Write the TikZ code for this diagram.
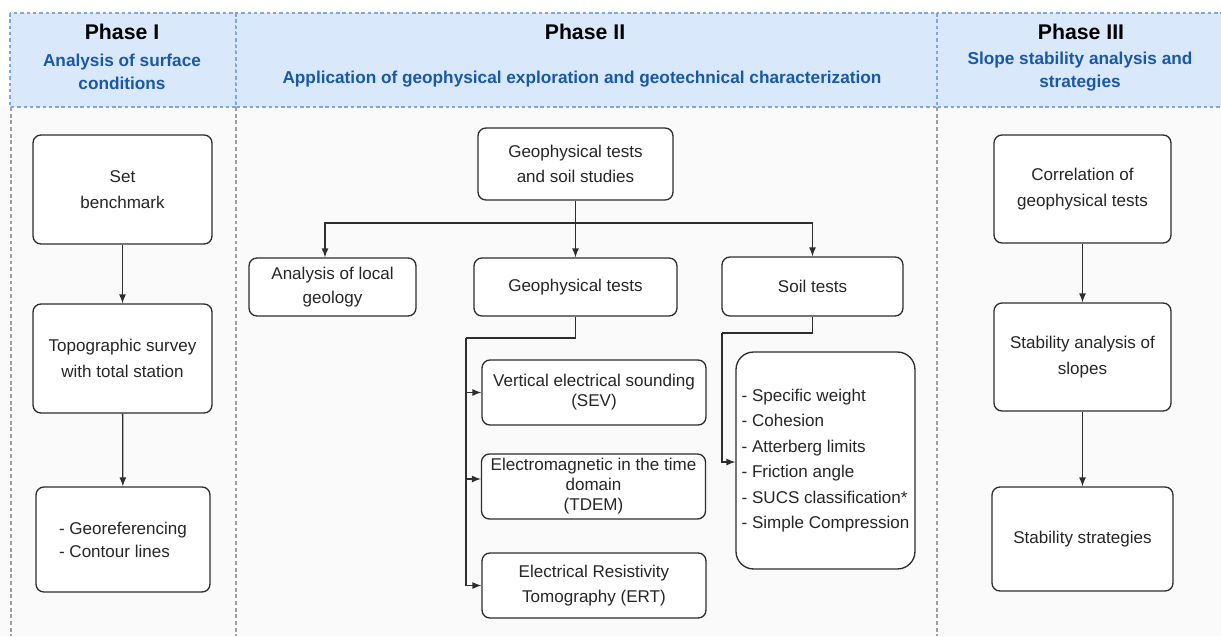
\documentclass[tikz,border=0pt]{standalone}
\usepackage{fontspec}
\setmainfont{Liberation Sans}
\usetikzlibrary{arrows}

\definecolor{entete}{HTML}{DAE8FC}
\definecolor{bordent}{HTML}{7EA6E0}
\definecolor{titbleu}{HTML}{1A58A8}
\definecolor{fond}{HTML}{FAFAFA}
\definecolor{trait}{HTML}{2E2E2E}

\tikzset{
  boite/.style={draw=trait, fill=white, rounded corners=4.5pt, line width=0.75pt,
    align=center, inner sep=2pt, text=black!85, font=\fontsize{9.7}{14.5}\selectfont},
  serre/.style={font=\fontsize{9.7}{11.4}\selectfont},
  fleche/.style={->, >=latex, line width=0.75pt, draw=trait},
  lien/.style={line width=0.75pt, draw=trait},
  entetebox/.style={fill=entete, draw=bordent, dash pattern=on 2pt off 1.6pt, line width=0.7pt},
  separ/.style={draw=gray!75, dash pattern=on 2.2pt off 1.6pt, line width=0.9pt},
  phase/.style={font=\fontsize{12.1}{14}\selectfont\bfseries},
  soustitre/.style={text=titbleu, align=center, font=\fontsize{9.8}{13}\selectfont\bfseries},
}

\begin{document}
\begin{tikzpicture}[x=0.02cm, y=-0.02cm]
    \useasboundingbox (0,0) rectangle (1221,636);

    % Fond et bandeau des phases
    \fill[fond] (0,107) rectangle (1221,636);
    \draw[entetebox] (10,13) rectangle (236,107);
    \draw[entetebox] (236,13) rectangle (937,107);
    \draw[entetebox] (937,13) rectangle (1230,107);
    \draw[separ] (11,107) -- (11,636);
    \draw[separ] (236,107) -- (236,636);
    \draw[separ] (937,107) -- (937,636);

    \node[phase] (ph1) at (122,32) {Phase I};
    \node[soustitre] (st1) at (122,71.5) {Analysis of surface\\conditions};
    \node[phase] (ph2) at (585,32) {Phase II};
    \node[soustitre] (st2) at (582,79) {Application of geophysical exploration and geotechnical characterization};
    \node[phase] (ph3) at (1081,32) {Phase III};
    \node[soustitre] (st3) at (1080,71.5) {Slope stability analysis and\\strategies};

    % Phase I
    \node[boite, minimum width=3.58cm, minimum height=2.18cm] (bench) at (122.5,189.5) {Set\\benchmark};
    \node[boite, minimum width=3.58cm, minimum height=2.18cm] (survey) at (122.5,358.5) {Topographic survey\\with total station};
    \node[boite, minimum width=3.48cm, minimum height=2.10cm, align=left, font=\fontsize{9.7}{13}\selectfont] (georef) at (123,539.5) {- Georeferencing\\- Contour lines};
    \draw[fleche] (bench) -- (survey);
    \draw[fleche] (survey) -- (georef);

    % Phase II
    \node[boite, minimum width=3.90cm, minimum height=1.44cm] (gsoil) at (575.5,164) {Geophysical tests\\and soil studies};
    \node[boite, minimum width=3.34cm, minimum height=1.16cm, font=\fontsize{9.7}{13.5}\selectfont] (geol) at (332.5,287) {Analysis of local\\geology};
    \node[boite, minimum width=4.06cm, minimum height=1.16cm] (gtests) at (575.5,287) {Geophysical tests};
    \node[boite, minimum width=3.62cm, minimum height=1.18cm] (soil) at (812.5,286.5) {Soil tests};

    \node[boite, serre, minimum width=4.48cm, minimum height=1.30cm] (sev) at (594,392.5) {Vertical electrical sounding\\(SEV)};
    \node[boite, serre, minimum width=4.48cm, minimum height=1.30cm] (tdem) at (593.5,486.5) {Electromagnetic in the time\\domain\\(TDEM)};
    \node[boite, minimum width=4.48cm, minimum height=1.30cm] (ert) at (594,585.5) {Electrical Resistivity\\Tomography (ERT)};
    \node[boite, rounded corners=10pt, align=left, minimum width=3.58cm, minimum height=4.34cm] (props) at (825.5,460.5)
        {- Specific weight\\- Cohesion\\- Atterberg limits\\- Friction angle\\- SUCS classification*\\- Simple Compression};

    % Liaisons de la phase II
    \coordinate (bus) at (575.5,223);
    \coordinate (busg) at (325,223);
    \draw[fleche] (gsoil) -- (gtests);
    \draw[fleche] (bus) -- (busg) -- (busg |- geol.north);
    \draw[fleche] (bus) -| (soil.north);

    \coordinate (tronc) at (466,338);
    \draw[lien] (gtests.south) |- (tronc);
    \draw[fleche] (tronc) |- (sev.west);
    \draw[fleche] (tronc) |- ([yshift=0.15cm]tdem.west);
    \draw[fleche] (tronc) |- (ert.west);

    \coordinate (sol) at (722,333);
    \draw[lien] (soil.south) |- (sol);
    \draw[fleche] (sol) |- ([yshift=-0.03cm]props.west);

    % Phase III
    \node[boite, minimum width=3.54cm, minimum height=2.16cm] (corr) at (1082.5,189) {Correlation of\\geophysical tests};
    \node[boite, minimum width=3.54cm, minimum height=2.16cm] (stab) at (1082.5,357) {Stability analysis of\\slopes};
    \node[boite, minimum width=3.62cm, minimum height=2.08cm] (strat) at (1082.5,539) {Stability strategies};
    \draw[fleche] (corr) -- (stab);
    \draw[fleche] (stab) -- (strat);

\end{tikzpicture}
\end{document}
